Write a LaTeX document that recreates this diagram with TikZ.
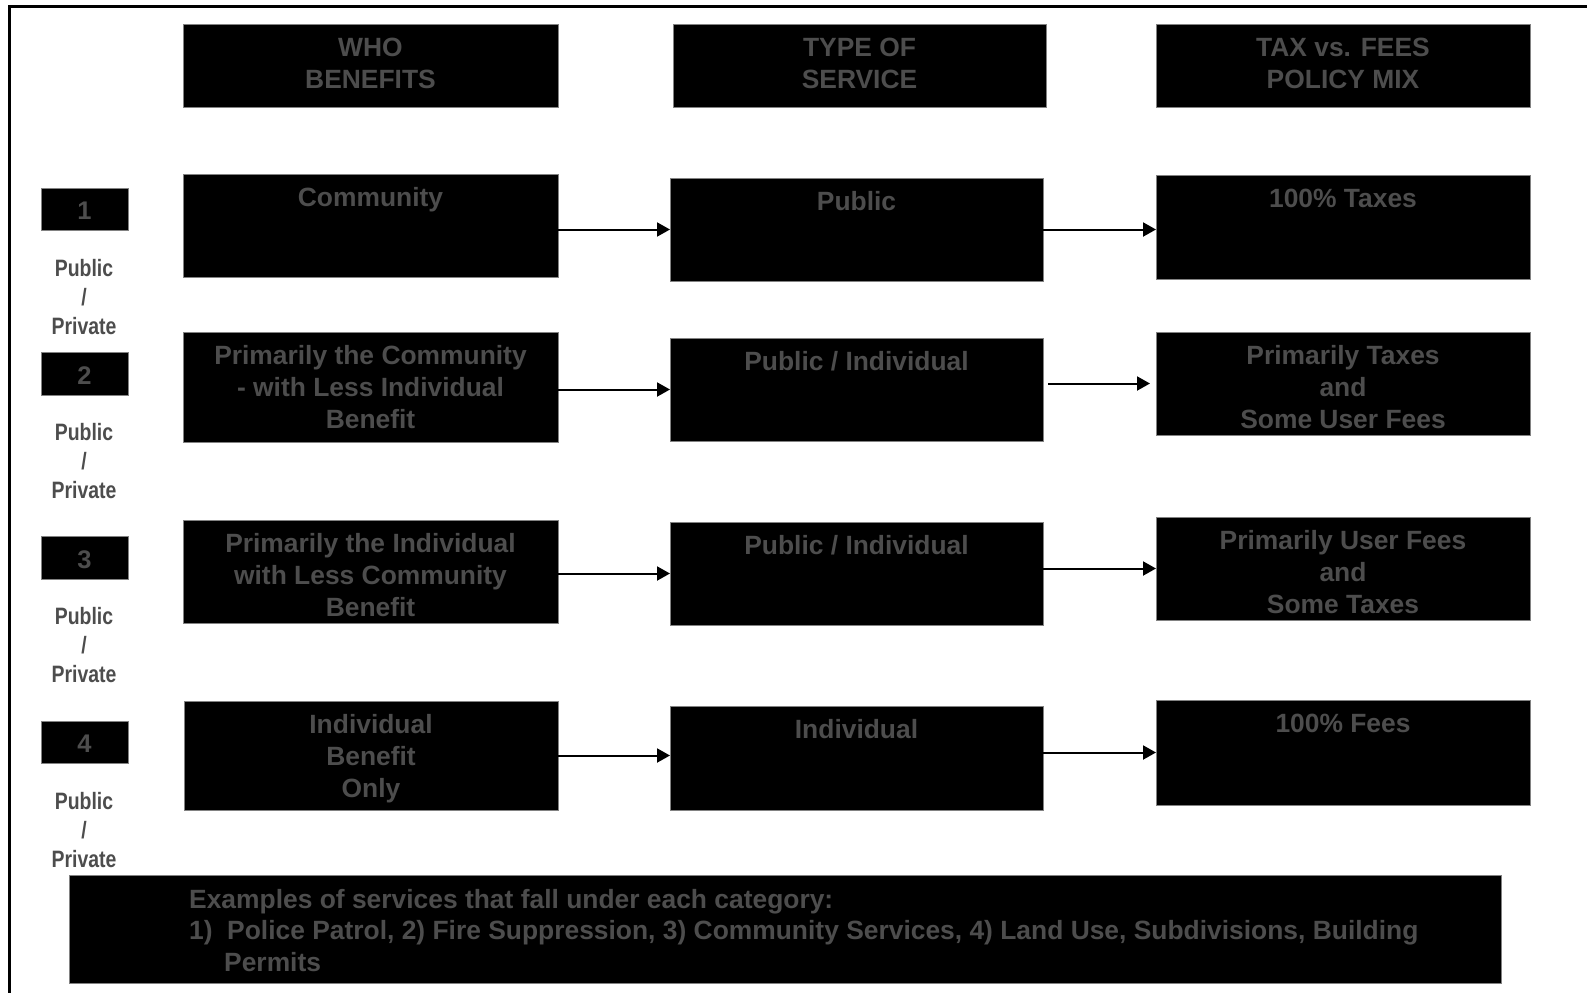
\documentclass[tikz,border=0pt]{standalone}
\usepackage{fontspec}
\setmainfont{Liberation Sans}
\newfontfamily\narrowfont{Liberation Sans}[FakeStretch=0.82]
\usetikzlibrary{arrows.meta}
\definecolor{txtgray}{RGB}{77,77,77}
\definecolor{boxedge}{RGB}{130,130,130}
\newcommand\drawbox[5]{\node[box, minimum width={(#4-#2)*1pt}, minimum height={(#5-#3)*1pt}] (#1) at ({(#2+#4)/2},{(#3+#5)/2}) {};}
\begin{document}
\begin{tikzpicture}[x=1pt,y=-1pt,
  box/.style={draw=boxedge, fill=black, line width=0.6pt, inner sep=0pt, outer sep=0pt},
  txt/.style={text=txtgray, font=\fontsize{26.4}{32}\selectfont\bfseries, align=center, anchor=base, inner sep=0pt},
  num/.style={text=txtgray, font=\fontsize{25.5}{28}\selectfont\bfseries, anchor=center, inner sep=0pt},
  lbl/.style={text=txtgray, font=\narrowfont\fontsize{23.7}{29}\selectfont\bfseries, align=center, anchor=base, inner sep=0pt},
  arr/.style={line width=2pt, -{Triangle[length=13pt,width=14pt]}}]
\useasboundingbox (0,0) rectangle (1587,993);
\draw[line width=2.5pt] (1587,6.5) -- (9.5,6.5) -- (9.5,993);

% headers (base anchor = last line baseline)
\drawbox{H1}{183}{24}{558}{107}
\drawbox{H2}{673}{24}{1046}{107}
\drawbox{H3}{1156}{24}{1530}{107}
\node[txt] (tH1) at ([yshift=-64pt]H1.north) {WHO\\BENEFITS};
\node[txt] (tH2) at ([yshift=-64pt]H2.north) {TYPE OF\\SERVICE};
\node[txt] (tH3) at ([yshift=-64pt]H3.north) {TAX vs. FEES\\POLICY MIX};

% number boxes and labels
\drawbox{N1}{41}{188}{128}{230}
\drawbox{N2}{41}{352}{128}{395}
\drawbox{N3}{41}{536}{128}{579}
\drawbox{N4}{41}{721}{128}{763}
\node[num] (tN1) at ([yshift=-2pt]N1.center) {1};
\node[num] (tN2) at ([yshift=-2pt]N2.center) {2};
\node[num] (tN3) at ([yshift=-2pt]N3.center) {3};
\node[num] (tN4) at ([yshift=-2pt]N4.center) {4};
\node[lbl] (P1) at (84,334) {Public\\/\\Private};
\node[lbl] (P2) at (84,498) {Public\\/\\Private};
\node[lbl] (P3) at (84,682) {Public\\/\\Private};
\node[lbl] (P4) at (84,867) {Public\\/\\Private};

% row 1
\drawbox{L1}{183}{174}{558}{277}
\drawbox{M1}{670}{178}{1043}{281}
\drawbox{R1}{1156}{175}{1530}{279}
\node[txt] (tL1) at ([yshift=-32pt]L1.north) {Community};
\node[txt] (tM1) at ([yshift=-32pt]M1.north) {Public};
\node[txt] (tR1) at ([yshift=-32pt]R1.north) {100\% Taxes};

% row 2
\drawbox{L2}{183}{332}{558}{442}
\drawbox{M2}{670}{338}{1043}{441}
\drawbox{R2}{1156}{332}{1530}{435}
\node[txt] (tL2) at ([yshift=-96pt]L2.north) {Primarily the Community\\- with Less Individual\\Benefit};
\node[txt] (tM2) at ([yshift=-32pt]M2.north) {Public / Individual};
\node[txt] (tR2) at ([yshift=-96pt]R2.north) {Primarily Taxes\\and\\Some User Fees};

% row 3
\drawbox{L3}{183}{520}{558}{623}
\drawbox{M3}{670}{522}{1043}{625}
\drawbox{R3}{1156}{517}{1530}{620}
\node[txt] (tL3) at ([yshift=-96pt]L3.north) {Primarily the Individual\\with Less Community\\Benefit};
\node[txt] (tM3) at ([yshift=-32pt]M3.north) {Public / Individual};
\node[txt] (tR3) at ([yshift=-96pt]R3.north) {Primarily User Fees\\and\\Some Taxes};

% row 4
\drawbox{L4}{184}{701}{558}{810}
\drawbox{M4}{670}{706}{1043}{810}
\drawbox{R4}{1156}{700}{1530}{805}
\node[txt] (tL4) at ([yshift=-96pt]L4.north) {Individual\\Benefit\\Only};
\node[txt] (tM4) at ([yshift=-32pt]M4.north) {Individual};
\node[txt] (tR4) at ([yshift=-32pt]R4.north) {100\% Fees};

% arrows
\draw[arr] (L1.east |- M1.west) -- (M1.west);
\draw[arr] (M1.east) -- (R1.west |- M1.east);
\draw[arr] (L2.east |- M2.west) -- (M2.west);
\draw[arr] ([xshift=5pt]M2.east |- R2.west) -- ([xshift=-6pt]R2.west);
\draw[arr] (L3.east |- M3.west) -- (M3.west);
\draw[arr] (M3.east |- R3.west) -- (R3.west);
\draw[arr] (L4.east) -- (M4.west |- L4.east);
\draw[arr] (M4.east |- R4.west) -- (R4.west);

% examples box
\drawbox{E}{69}{875}{1501}{983}
\node[txt, align=left, anchor=base west, font=\fontsize{26.4}{31.5}\selectfont\bfseries] (tE) at (189,971)
  {Examples of services that fall under each category:\\
   \makebox[38pt][l]{1)}Police Patrol, 2) Fire Suppression, 3) Community Services, 4) Land Use, Subdivisions, Building\\
   \hspace*{35pt}Permits};
\end{tikzpicture}
\end{document}
